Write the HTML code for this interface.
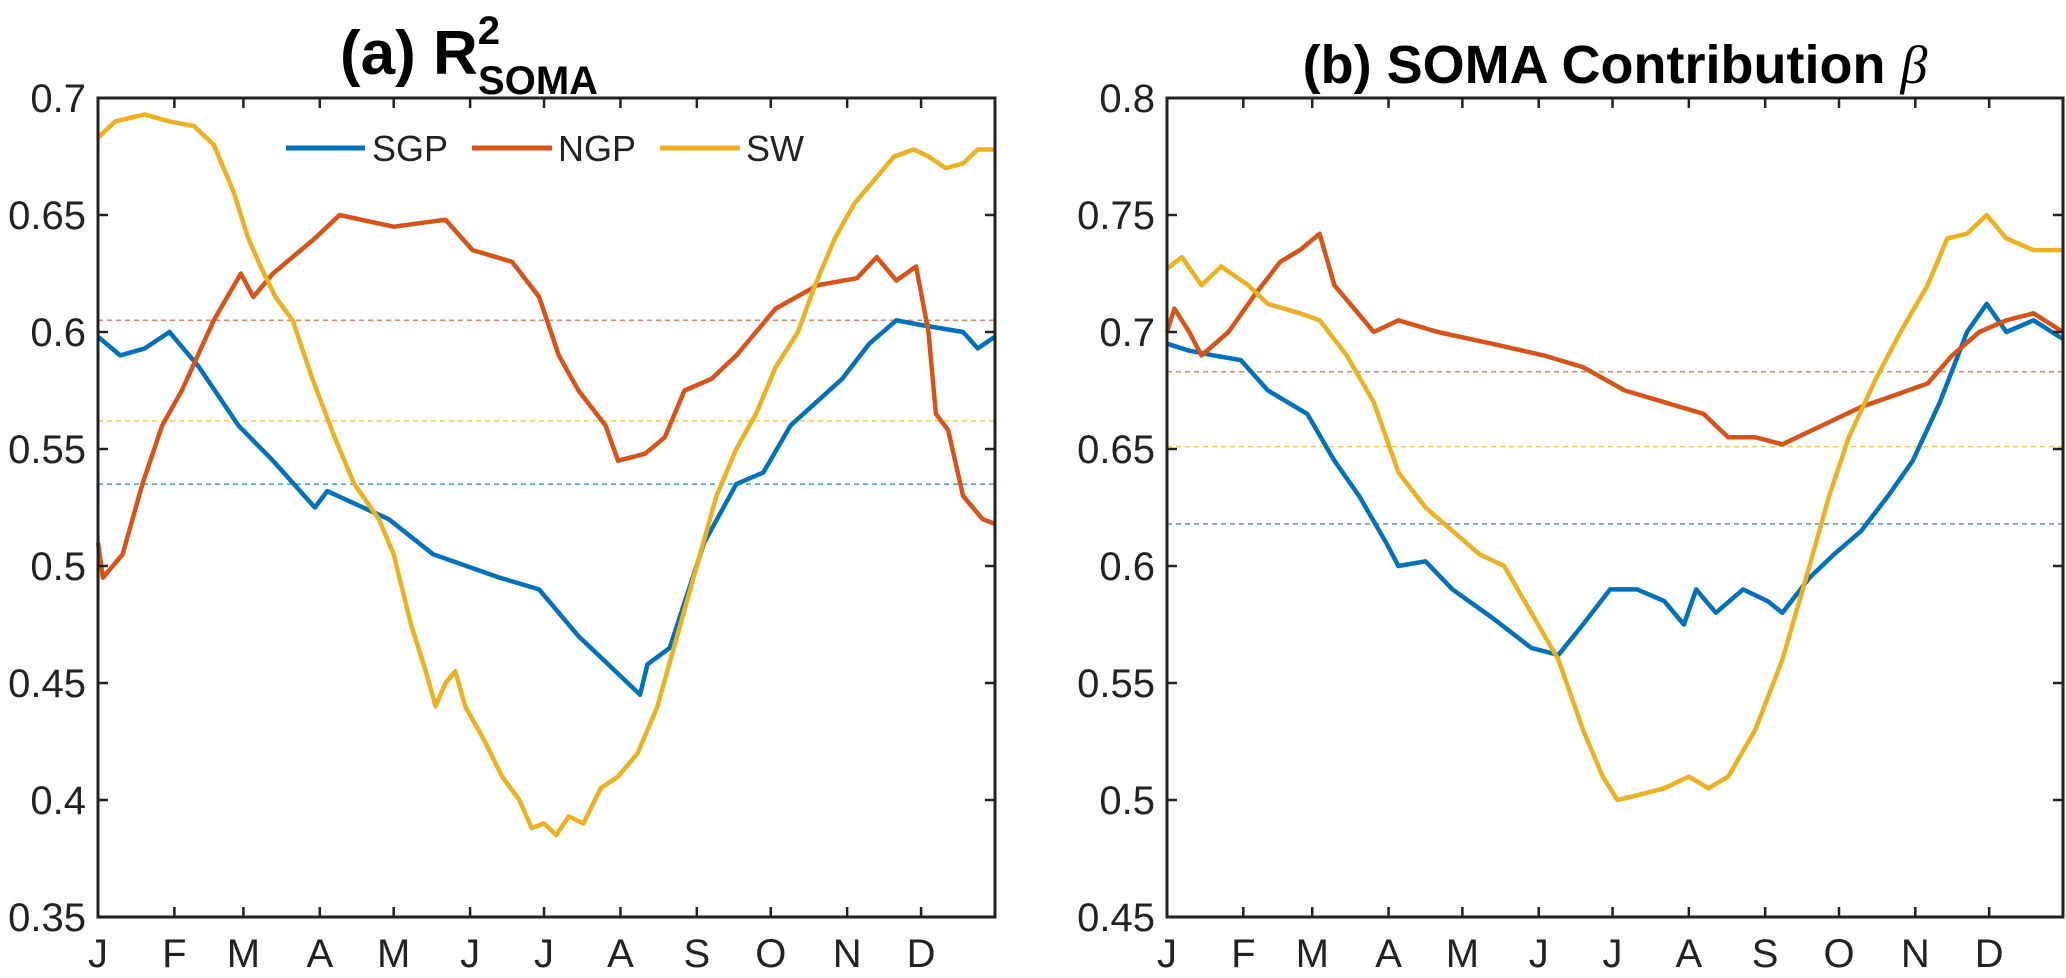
<!DOCTYPE html>
<html><head><meta charset="utf-8"><style>
html,body{margin:0;padding:0;background:#fff;}
svg{display:block;font-family:"Liberation Sans",Arial,sans-serif;}
</style></head><body>
<svg id="fig" width="2066" height="978" viewBox="0 0 2066 978"></svg>
<script>
const months=["J","F","M","A","M","J","J","A","S","O","N","D"];
const monthStart=[1,32,60,91,121,152,182,213,244,274,305,335];
const ticksA=[0.35,0.4,0.45,0.5,0.55,0.6,0.65,0.7];
const ticksB=[0.45,0.5,0.55,0.6,0.65,0.7,0.75,0.8];
const aSGPd=[1,10,20,30,42,58,72,89,94,119,137,164,180,196,208,221,224,233,247,260,271,282,303,314,325,335,352,358,365];
const aSGPv=[0.598,0.59,0.593,0.6,0.585,0.56,0.545,0.525,0.532,0.52,0.505,0.495,0.49,0.47,0.458,0.445,0.458,0.465,0.51,0.535,0.54,0.56,0.58,0.595,0.605,0.603,0.6,0.593,0.598];
const aNGPd=[1,3,11,19,27,35,48,59,64,72,89,99,121,142,153,169,180,188,196,207,212,223,231,239,250,260,276,293,309,317,325,333,338,341,346,352,360,365];
const aNGPv=[0.51,0.495,0.505,0.535,0.56,0.575,0.605,0.625,0.615,0.625,0.64,0.65,0.645,0.648,0.635,0.63,0.615,0.59,0.575,0.56,0.545,0.548,0.555,0.575,0.58,0.59,0.61,0.62,0.623,0.632,0.622,0.628,0.6,0.565,0.558,0.53,0.52,0.518];
const aSWd=[1,8,20,30,40,48,56,62,67,73,80,88,97,105,115,121,128,134,138,142,146,150,158,165,172,177,182,187,192,198,205,212,220,228,236,244,252,260,268,276,285,292,300,308,316,324,332,338,345,352,358,365];
const aSWv=[0.683,0.69,0.693,0.69,0.688,0.68,0.66,0.64,0.628,0.615,0.605,0.58,0.555,0.535,0.52,0.505,0.475,0.455,0.44,0.45,0.455,0.44,0.425,0.41,0.4,0.388,0.39,0.385,0.393,0.39,0.405,0.41,0.42,0.44,0.47,0.5,0.53,0.55,0.565,0.585,0.6,0.62,0.64,0.655,0.665,0.675,0.678,0.675,0.67,0.672,0.678,0.678];
const aMeans=[0.535,0.605,0.562];
const bSGPd=[1,10,20,31,42,58,69,79,90,95,106,117,133,149,160,170,181,192,203,211,216,224,235,245,251,262,272,283,294,304,315,326,334,342,353,365];
const bSGPv=[0.695,0.692,0.69,0.688,0.675,0.665,0.645,0.63,0.61,0.6,0.602,0.59,0.578,0.565,0.562,0.575,0.59,0.59,0.585,0.575,0.59,0.58,0.59,0.585,0.58,0.595,0.605,0.615,0.63,0.645,0.67,0.7,0.712,0.7,0.705,0.697];
const bNGPd=[1,4,10,15,26,36,47,55,63,69,77,85,95,111,133,154,170,187,203,219,224,229,240,251,267,283,294,310,320,331,342,353,365];
const bNGPv=[0.7,0.71,0.7,0.69,0.7,0.715,0.73,0.735,0.742,0.72,0.71,0.7,0.705,0.7,0.695,0.69,0.685,0.675,0.67,0.665,0.66,0.655,0.655,0.652,0.66,0.668,0.672,0.678,0.69,0.7,0.705,0.708,0.7];
const bSWd=[1,7,15,23,34,42,55,63,74,85,95,106,117,128,138,149,160,170,178,184,192,203,213,221,229,240,251,262,270,278,289,299,310,318,326,334,342,353,365];
const bSWv=[0.727,0.732,0.72,0.728,0.72,0.712,0.708,0.705,0.69,0.67,0.64,0.625,0.615,0.605,0.6,0.58,0.56,0.53,0.51,0.5,0.502,0.505,0.51,0.505,0.51,0.53,0.56,0.6,0.63,0.655,0.68,0.7,0.72,0.74,0.742,0.75,0.74,0.735,0.735];
const bMeans=[0.618,0.683,0.651];
const colors=["#0072BD","#D95319","#EDB120"];
const names=["sgp","ngp","sw"];
const NS="http://www.w3.org/2000/svg";
const svg=document.getElementById('fig');
function mk(tag,attrs,parent){const e=document.createElementNS(NS,tag);for(const k in attrs)e.setAttribute(k,attrs[k]);(parent||svg).appendChild(e);return e;}
function panel(id,L,R,T,B,ymin,ymax,ticks,series,means){
  const g=mk('g',{});
  
  
  const xs=d=>L+(d-1)/364*(R-L);
  const ys=v=>B-(v-ymin)/(ymax-ymin)*(B-T);
  means.forEach((m,i)=>{const l=mk('line',{x1:L,x2:R,y1:ys(m),y2:ys(m),stroke:colors[i],'stroke-width':1.5,'stroke-dasharray':'5,4',opacity:0.7},g);
    
    });
  series.forEach((s,i)=>{const p=s[0].map((d,j)=>xs(d).toFixed(1)+','+ys(s[1][j]).toFixed(1)).join(' ');
    const pl=mk('polyline',{points:p,fill:'none',stroke:colors[i],'stroke-width':4.5,'stroke-linejoin':'round'},g);
    
    });
  const ax=mk('rect',{x:L,y:T,width:R-L,height:B-T,fill:'none',stroke:'#222','stroke-width':3},g);
  
  
  ticks.forEach(t=>{const y=ys(t);
    mk('line',{x1:L,x2:L+10,y1:y,y2:y,stroke:'#222','stroke-width':2.5},g);
    mk('line',{x1:R,x2:R-10,y1:y,y2:y,stroke:'#222','stroke-width':2.5},g);
    const tx=mk('text',{x:L-12,y:y+14,'text-anchor':'end','font-size':40,fill:'#222'},g);tx.textContent=String(t);
    
    });
  monthStart.forEach((d,i)=>{const x=xs(d);
    if(i>0){mk('line',{x1:x,x2:x,y1:B,y2:B-10,stroke:'#222','stroke-width':2.5},g);
    mk('line',{x1:x,x2:x,y1:T,y2:T+10,stroke:'#222','stroke-width':2.5},g);}
    const tx=mk('text',{x:x,y:B+50,'text-anchor':'middle','font-size':40,fill:'#222'},g);tx.textContent=months[i];
    
    });
  return g;
}
panel('panel-a',98,995,98,917,0.35,0.7,ticksA,[[aSGPd,aSGPv],[aNGPd,aNGPv],[aSWd,aSWv]],aMeans);
panel('panel-b',1167,2063,98,917,0.45,0.8,ticksB,[[bSGPd,bSGPv],[bNGPd,bNGPv],[bSWd,bSWv]],bMeans);
</script>
<svg style="position:absolute;left:0;top:0" width="2066" height="978">
  <text x="340" y="74" font-family="Liberation Sans, sans-serif" font-size="62" font-weight="bold" fill="#000">(a) R<tspan font-size="40" dy="-30">2</tspan><tspan font-size="40" dx="-22" dy="50">SOMA</tspan></text>
  <text x="1615" y="83" text-anchor="middle" font-family="Liberation Sans, sans-serif" font-size="54" font-weight="bold" fill="#000">(b) SOMA Contribution <tspan font-family="Liberation Serif, serif" font-style="italic" font-weight="normal">β</tspan></text>
  <g font-family="Liberation Sans, sans-serif" font-size="36" fill="#222">
    <line x1="286" x2="365" y1="148" y2="148" stroke="#0072BD" stroke-width="5"/>
    <text x="372" y="161">SGP</text>
    <line x1="472" x2="552" y1="148" y2="148" stroke="#D95319" stroke-width="5"/>
    <text x="558" y="161">NGP</text>
    <line x1="660" x2="740" y1="148" y2="148" stroke="#EDB120" stroke-width="5"/>
    <text x="746" y="161">SW</text>
  </g>
</svg>
</body></html>
